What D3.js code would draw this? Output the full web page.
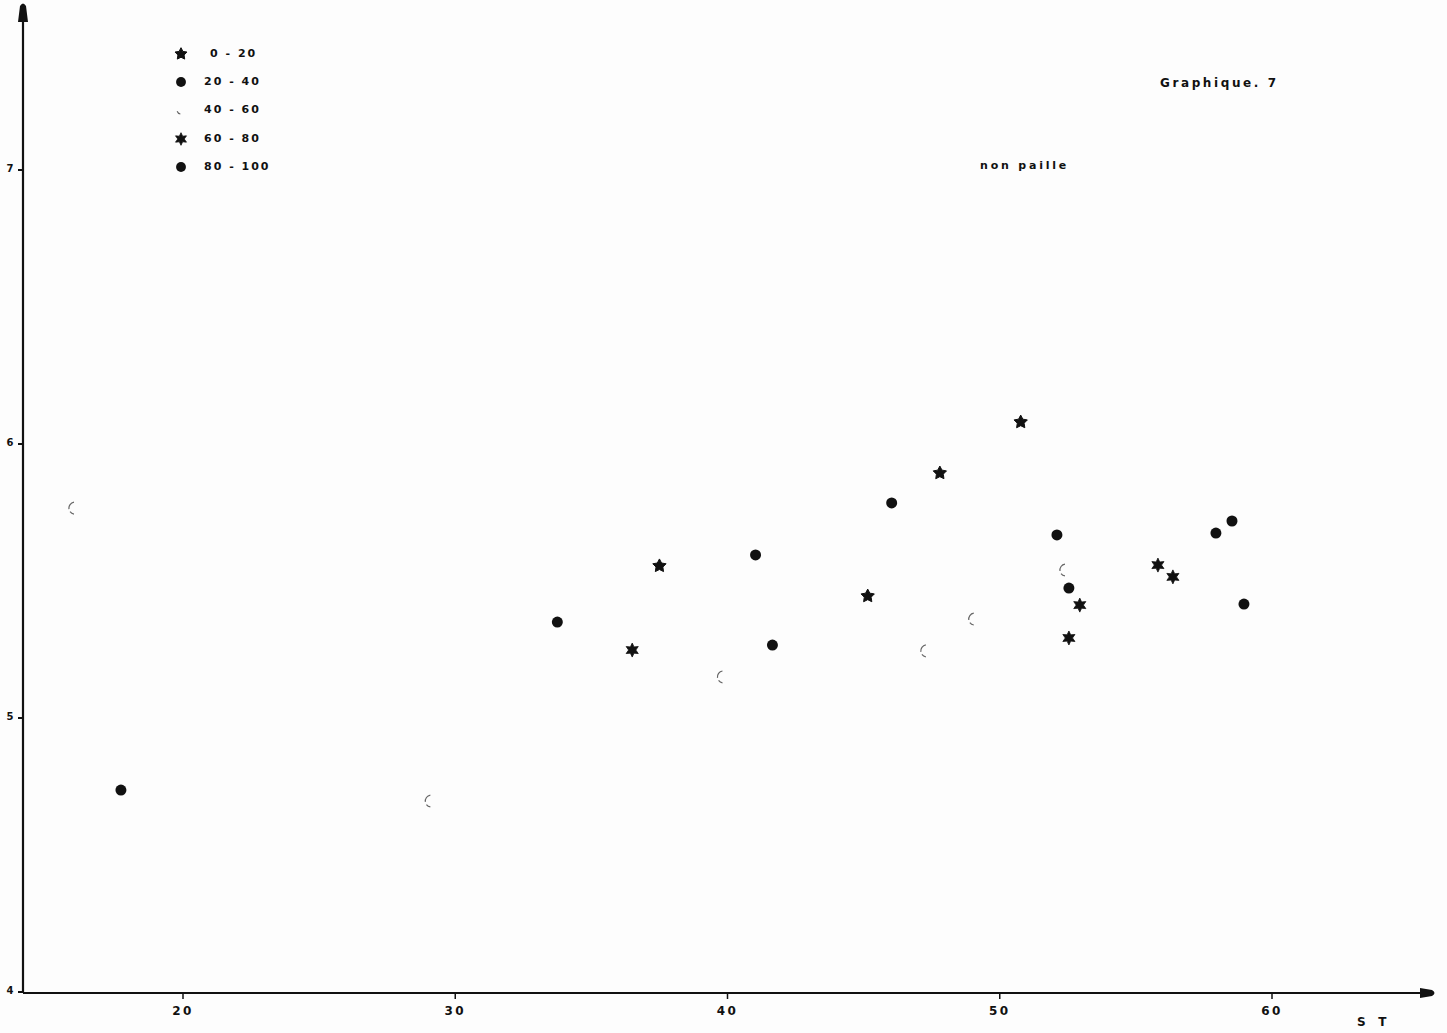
<!DOCTYPE html>
<html><head><meta charset="utf-8">
<script src="https://cdn.jsdelivr.net/npm/d3@7"></script>
<style>body{margin:0;background:#fdfdfd}svg{display:block}text{font-family:"DejaVu Sans",sans-serif;font-weight:bold;fill:#111}</style>
</head><body>
<script>
const legendLabels = ["0 - 20","20 - 40","40 - 60","60 - 80","80 - 100"];
const xTicks = [20,30,40,50,60];
const yTicks = [7,6,5,4];
// class 0-20 (5-point stars)
const s0x = [37.5,45.15,47.8,50.77];
const s0y = [5.555,5.445,5.894,6.08];
// class 20-40 (dots)
const s1x = [17.72,33.75,41.03,41.65,46.03];
const s1y = [4.737,5.35,5.595,5.266,5.785];
// class 40-60 (open circles)
const s2x = [16.03,29.12,39.85,47.32,49.08,52.43];
const s2y = [5.766,4.697,5.15,5.245,5.361,5.54];
// class 60-80 (6-point stars)
const s3x = [36.5,52.54,52.94,55.81,56.36];
const s3y = [5.248,5.292,5.412,5.558,5.515];
// class 80-100 (dots)
const s4x = [52.1,52.54,57.94,58.53,58.97];
const s4y = [5.668,5.474,5.675,5.719,5.416];

const W=1447,H=1033;
const svg=d3.select("body").append("svg").attr("width",W).attr("height",H);
const x=d3.scaleLinear().domain([20,60]).range([183,1272]);
const y=d3.scaleLinear().domain([4,7]).range([992,170]);
const x0=x.invert(23), yTop=y.invert(22), xEnd=x.invert(1420);

svg.append("line").attr("x1",x(x0)).attr("x2",x(xEnd)).attr("y1",y(4)+1).attr("y2",y(4)+1).attr("stroke","#111").attr("stroke-width",2.2);
svg.append("line").attr("x1",x(x0)).attr("x2",x(x0)).attr("y1",y(4)+1).attr("y2",y(yTop)).attr("stroke","#111").attr("stroke-width",2.2);
const ax=x(x0), ay=y(4)+1;
svg.append("path").attr("d",`M${ax-5},${y(yTop)} L${ax-3},6 Q${ax},1 ${ax+3},6 L${ax+5},${y(yTop)} Z`).attr("fill","#111");
const ex=x(xEnd);
svg.append("path").attr("d",`M${ex},${ay-5} L${ex+12},${ay-3} Q${ex+17},${ay} ${ex+12},${ay+3} L${ex},${ay+5} Z`).attr("fill","#111");

xTicks.forEach(t=>{
  svg.append("line").attr("x1",x(t)).attr("x2",x(t)).attr("y1",ay).attr("y2",ay+6).attr("stroke","#111").attr("stroke-width",1.5);
  svg.append("text").attr("x",x(t)).attr("y",ay+22).attr("text-anchor","middle").attr("font-size",12).attr("letter-spacing",2.5).text(t);
});
yTicks.forEach(t=>{
  svg.append("line").attr("x1",ax-5).attr("x2",ax).attr("y1",y(t)).attr("y2",y(t)).attr("stroke","#111").attr("stroke-width",2);
  svg.append("text").attr("x",10).attr("y",y(t)+2).attr("text-anchor","middle").attr("font-size",10).text(t);
});

svg.append("text").attr("x",1160).attr("y",87).attr("font-size",12).attr("letter-spacing",2.6).text("Graphique. 7");
svg.append("text").attr("x",980).attr("y",169).attr("font-size",11).attr("letter-spacing",2.8).text("non paille");
svg.append("text").attr("x",1357).attr("y",1026).attr("font-size",12).attr("style","white-space:pre").text("S   T");

function starN(n,r,ri){
  const pts=[];
  for(let i=0;i<2*n;i++){const a=Math.PI/n*i-Math.PI/2;const rr=i%2?ri:r;pts.push([rr*Math.cos(a),rr*Math.sin(a)]);}
  return "M"+pts.map(p=>p.map(v=>v.toFixed(2)).join(",")).join("L")+"Z";
}
const arcOpen=(r)=>{
  const a1=d3.arc().innerRadius(r-0.6).outerRadius(r+0.6).startAngle(-Math.PI*0.05).endAngle(-Math.PI*0.55)();
  const a2=d3.arc().innerRadius(r-0.6).outerRadius(r+0.6).startAngle(-Math.PI*0.7).endAngle(-Math.PI*0.95)();
  return a1+a2;
};
function mark(t,kind,s){
  if(kind==="s5") t.append("path").attr("d",starN(5,7*s,3.6*s)).attr("fill","#111").attr("stroke","#111").attr("stroke-width",1).attr("stroke-linejoin","round");
  else if(kind==="s6") t.append("path").attr("d",starN(6,7*s,3.6*s)).attr("fill","#111").attr("stroke","#111").attr("stroke-width",0.8).attr("stroke-linejoin","round");
  else if(kind==="dot") t.append("circle").attr("r",5.5*s).attr("fill","#111");
  else t.append("path").attr("d",arcOpen(6*s)).attr("fill","#666");
}
function drawClass(xs,ys,kind,g){
  xs.forEach((v,i)=>{
    const t=g.append("g").attr("transform",`translate(${x(v)},${y(ys[i])})`);
    mark(t,kind,1);
  });
}
const pg=svg.append("g");
drawClass(s0x,s0y,"s5",pg);
drawClass(s1x,s1y,"dot",pg);
drawClass(s2x,s2y,"open",pg);
drawClass(s3x,s3y,"s6",pg);
drawClass(s4x,s4y,"dot",pg);

const kinds=["s5","dot","open","s6","dot"];
const ly=[54,82,110,139,167];
legendLabels.forEach((lab,i)=>{
  const t=svg.append("g").attr("transform",`translate(181,${ly[i]})`);
  if(kinds[i]==="open") t.append("path").attr("d",d3.arc().innerRadius(3.5).outerRadius(4.6).startAngle(-Math.PI*0.6).endAngle(-Math.PI*0.95)()).attr("fill","#666");
  else mark(t,kinds[i],0.9);
  svg.append("text").attr("x",i===0?210:204).attr("y",ly[i]+3).attr("font-size",11).attr("letter-spacing",2).text(lab);
});
</script>
</body></html>
